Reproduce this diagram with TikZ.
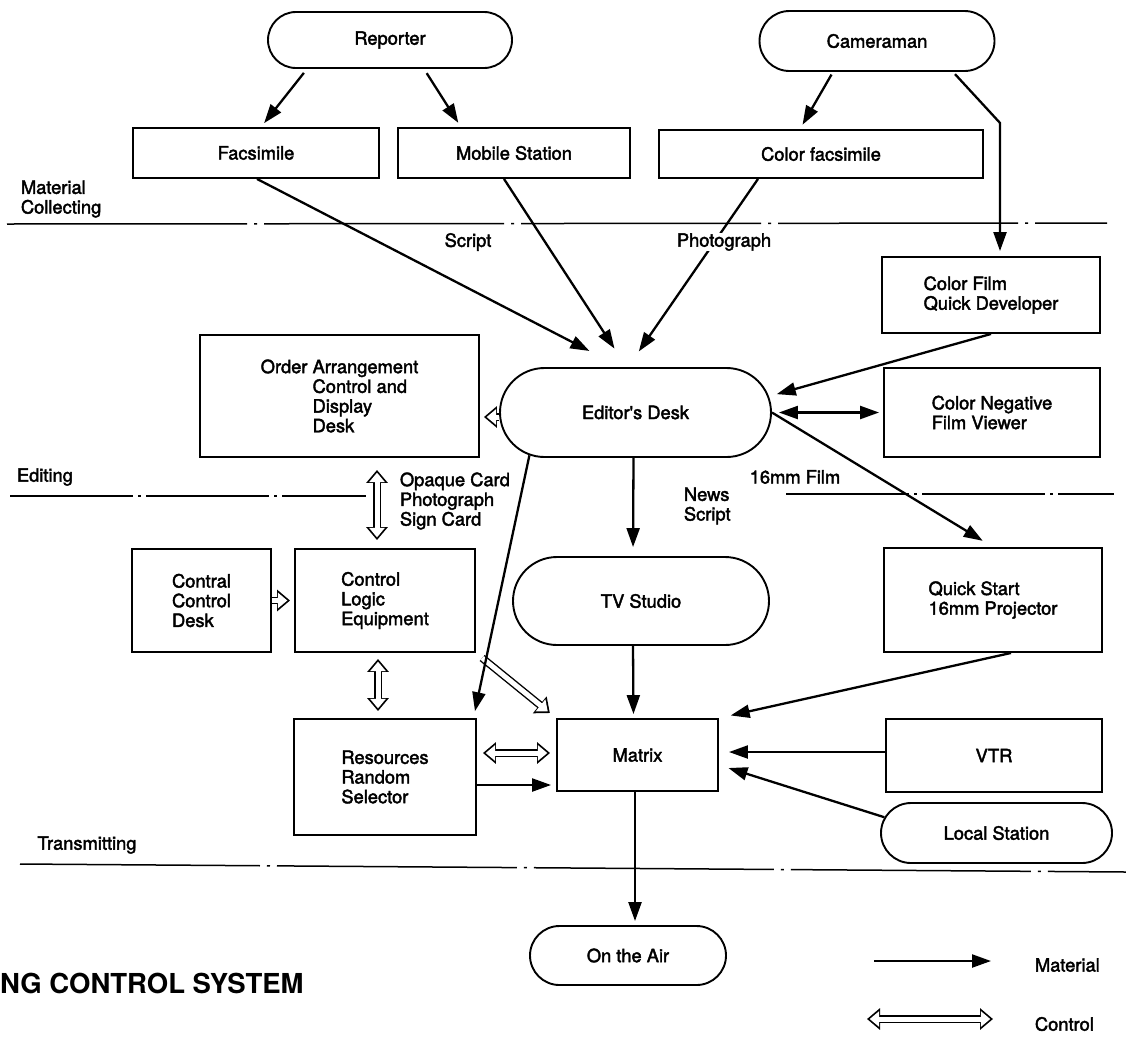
\documentclass[tikz,border=0pt]{standalone}
\usepackage{fontspec}
\setmainfont{TeX Gyre Heros}
\newfontfamily\heavyfont{TeX Gyre Heros}[FakeBold=2.2]
\usetikzlibrary{arrows.meta,shapes.misc,calc}
\newcommand{\lbl}{\heavyfont\fontsize{18.3}{19.7}\selectfont}
\tikzset{
  box/.style={draw, line width=1.9pt, inner sep=0pt, align=left, font=\lbl},
  pill/.style={draw, rounded rectangle, line width=1.9pt, inner sep=0pt, font=\lbl},
  feed/.style={line width=2.3pt, -{Triangle[length=19pt,width=13pt]}, shorten >=5pt},
  % hollow control arrow: black body, white core on top
  ctrl/.style 2 args={line width=7.8pt, -{Triangle[length=13pt,width=21pt]},
    shorten <=#1pt, shorten >=#2pt,
    postaction={draw=white, line width=5pt, -{Triangle[length=9.4pt,width=15pt]},
      shorten <=#1pt, shorten >=#2pt+2.7pt}},
  ctrlboth/.style 2 args={line width=7.8pt, {Triangle[length=13pt,width=21pt]}-{Triangle[length=13pt,width=21pt]},
    shorten <=#1pt, shorten >=#2pt,
    postaction={draw=white, line width=5pt, {Triangle[length=9.4pt,width=15pt]}-{Triangle[length=9.4pt,width=15pt]},
      shorten <=#1pt+2.7pt, shorten >=#2pt+2.7pt}},
  sep/.style={line width=1.5pt, dash pattern=on 240pt off 7pt on 3pt off 7pt},
  tag/.style={inner sep=0.75pt, align=left, font=\lbl},
}

\begin{document}
\begin{tikzpicture}[x=1pt,y=1pt,yscale=-1,xscale=1]
\useasboundingbox (0,0) rectangle (1126,1042);

%Shape: Material Collecting
\node[pill, minimum width=244pt, minimum height=56pt] (rep) at (390,40) {Reporter};
\node[pill, minimum width=235pt, minimum height=60pt] (cam) at (877,41) {Cameraman};
\node[box, minimum width=246pt, minimum height=50pt] (fac) at (256,153) {Facsimile};
\node[box, minimum width=232pt, minimum height=50pt] (mob) at (514,153) {Mobile Station};
\node[box, minimum width=324pt, minimum height=48pt] (cfac) at (821,154) {Color facsimile};
\node[box, minimum width=218pt, minimum height=76pt] (cfqd) at (991,295) {Color Film\\Quick Developer};

%Shape: Editing
\node[box, minimum width=279pt, minimum height=122pt] (ordr) at (339.5,396) {Order Arrangement\\\hphantom{Order }Control and\\\hphantom{Order }Display\\\hphantom{Order }Desk};
\node[pill, minimum width=271pt, minimum height=89pt] (edit) at (635.5,412.5) {Editor's Desk};
\node[box, minimum width=216pt, minimum height=89pt] (cneg) at (992,412.5) {Color Negative\\Film Viewer};
\node[box, minimum width=139pt, minimum height=103pt] (ccd) at (201.5,600.5) {Contral\\Control\\Desk};
\node[box, minimum width=180pt, minimum height=103pt] (cle) at (385,600.5) {Control\\Logic\\Equipment};
\node[pill, minimum width=256pt, minimum height=88pt] (tv) at (641,601) {TV Studio};
\node[box, minimum width=218pt, minimum height=104pt] (qsp) at (993,600) {Quick Start\\16mm Projector};

%Shape: Transmitting
\node[box, minimum width=182pt, minimum height=116pt] (rrs) at (385,777) {Resources\\Random\\Selector};
\node[box, minimum width=161pt, minimum height=72pt] (mtx) at (637.5,755) {Matrix};
\node[box, minimum width=216pt, minimum height=73pt] (vtr) at (994,755.5) {VTR};
\node[pill, minimum width=231pt, minimum height=60pt] (loc) at (996.5,833) {Local Station};
\node[pill, minimum width=196pt, minimum height=59pt] (air) at (628,955.5) {On the Air};

%Straight Lines: stage borders
\draw[sep] (7,224) -- (1107,223);
\draw[sep, dash pattern=on 123pt off 5pt on 3pt off 5pt] (10,496) -- (366,496);
\draw[sep, dash pattern=on 123pt off 5pt on 3pt off 5pt] (786,494) -- (1114,494);
\draw[sep] (20,864) -- (1126,872);

%Straight Lines: control
\draw[ctrl={0}{4}] ($(edit.west)+(0,4.5)$) -- ($(ordr.east)+(0,21)$);
\draw[ctrlboth={12}{8}] ([xshift=37.5pt]ordr.south) -- ([xshift=-8pt]cle.north);
\draw[ctrl={0}{4}] (ccd.east) -- (cle.west);
\draw[ctrlboth={6}{7}] ([xshift=-7pt]cle.south) -- ([xshift=-7pt]rrs.north);
\draw[ctrl={8}{8}] (cle.south east) -- (mtx.north west);
\draw[ctrlboth={6}{6}] ($(rrs.east)+(0,-24)$) -- ($(mtx.west)+(0,-2)$);

%Straight Lines: material
\draw[feed, shorten <=5pt] ([xshift=-83pt]rep.south) -- ([xshift=5pt]fac.north);
\draw[feed, shorten <=5pt] ([xshift=34pt]rep.south) -- ([xshift=-53pt]mob.north);
\draw[feed, shorten <=3pt] ([xshift=-44pt]cam.south) -- ([xshift=-21pt]cfac.north);
\draw[feed, shorten <=3pt] ([xshift=76pt]cam.south) -- ++(47,51) -- ([xshift=9pt]cfqd.north);
\draw[feed, shorten >=35pt] ([xshift=1pt]fac.south) -- ([xshift=-15pt]edit.north);
\draw[feed, shorten >=22pt] ([xshift=-10pt]mob.south) -- ([xshift=-9pt]edit.north);
\draw[feed, shorten >=19pt] ([xshift=-63pt]cfac.south) -- ([xshift=-7.5pt]edit.north);
\draw[feed] (cfqd.south) -- ($(edit.east)+(0,-17)$);
\draw[feed, shorten <=7pt, shorten >=4pt, {Triangle[length=19pt,width=13pt]}-{Triangle[length=19pt,width=13pt]}] (edit.east) -- (cneg.west);
\draw[feed, shorten >=12pt] (edit.east) -- (qsp.north);
\draw[feed, shorten >=9pt] ([xshift=-2pt]edit.south) -- ([xshift=-8pt]tv.north);
\draw[feed, shorten >=7pt] (edit.202) -- ([xshift=88.5pt]rrs.north);
\draw[feed, shorten >=4pt] ([xshift=-8pt]tv.south) -- ([xshift=-4pt]mtx.north);
\draw[feed, shorten >=12pt] ([xshift=18pt]qsp.south) -- (mtx.north east);
\draw[feed, shorten >=10pt] ($(vtr.west)+(0,-3.5)$) -- ($(mtx.east)+(0,-3)$);
\draw[feed, shorten >=10pt] (loc.172) -- ($(mtx.east)+(0,10)$);
\draw[feed] ($(rrs.east)+(0,8)$) -- ($(mtx.west)+(0,30)$);
\draw[feed, shorten >=4pt] ([xshift=-2.5pt]mtx.south) -- ([xshift=7pt]air.north);

% Text Node
\node[tag, anchor=west] (lcol) at (20,199) {Material\\Collecting};
% Text Node
\node[tag] (lscr) at (468,242) {Script};
% Text Node
\node[tag, fill=white] (lpho) at (724,242) {Photograph};
% Text Node
\node[tag, anchor=west] (ledi) at (16,477) {Editing};
% Text Node
\node[tag, anchor=west] (lcard) at (399,501) {Opaque Card\\Photograph\\Sign Card};
% Text Node
\node[tag] (lfilm) at (795,477) {16mm Film};
% Text Node
\node[tag, anchor=west] (lnews) at (683,506) {News\\Script};
% Text Node
\node[tag] (ltx) at (87,845) {Transmitting};
% Text Node
\node[anchor=west, inner sep=0pt, font=\bfseries\fontsize{27.5}{30}\selectfont] (ttl) at (0,983) {NG CONTROL SYSTEM};

%Legend
\node[tag, anchor=west] (lmat) at (1034,965) {Material};
\node[tag, anchor=west] (lctl) at (1034,1024) {Control};
\draw[feed, shorten >=0pt] ($(lmat.west)+(-160,-4)$) -- ($(lmat.west)+(-43,-4)$);
\draw[ctrlboth={0}{0}] ($(lctl.west)+(-167,-5)$) -- ($(lctl.west)+(-41,-5)$);

\end{tikzpicture}
\end{document}
